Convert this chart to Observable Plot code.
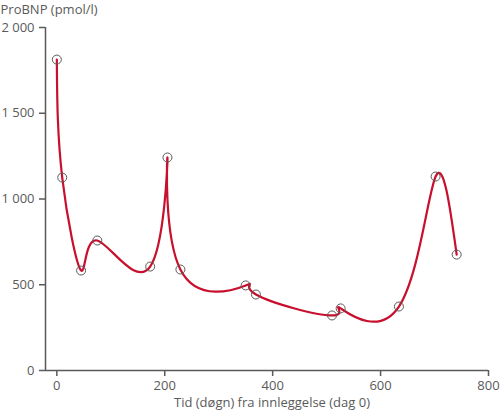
<!DOCTYPE html>
<html>
<head>
<meta charset="utf-8">
<script src="https://cdn.jsdelivr.net/npm/d3@7"></script>
<script src="https://cdn.jsdelivr.net/npm/@observablehq/plot@0.6"></script>
<style>
  html, body { margin: 0; padding: 0; background: #fff; }
  #chart svg { display: block; }
</style>
</head>
<body>
<div id="chart"></div>
<script>
const days = [0, 10, 45, 75, 173, 205, 229, 350, 369, 510, 526, 634, 702, 741];
const probnp = [1813, 1125, 583, 758, 606, 1242, 589, 496, 443, 321, 362, 373, 1131, 676];
const yTicks = [0, 500, 1000, 1500, 2000];
const xTicks = [0, 200, 400, 600, 800];
const yTitle = "ProBNP (pmol/l)";
const xTitle = "Tid (døgn) fra innleggelse (dag 0)";

const data = days.map((d, i) => ({day: d, value: probnp[i]}));
const fmt = v => d3.format(",")(v).replace(/,/g, " ");
const grey = "#5a5a5a";
const red = "#c8102e";

const chart = Plot.plot({
  width: 500,
  height: 411,
  marginTop: 27,
  marginBottom: 41,
  marginLeft: 45,
  marginRight: 12,
  style: {fontFamily: "'Open Sans', sans-serif", fontSize: "13px", color: grey},
  x: {domain: [-21, 800]},
  y: {domain: [0, 2000]},
  marks: [
    Plot.ruleX([-21], {y1: 0, y2: 2000, stroke: grey, strokeWidth: 1.5}),
    Plot.ruleY([0], {x1: -21, x2: 800, stroke: grey, strokeWidth: 1.5}),
    Plot.axisY({ticks: yTicks, tickFormat: fmt, tickSize: 6, tickPadding: 5, label: null, stroke: grey, strokeWidth: 1.5, fill: grey, fontSize: 13}),
    Plot.axisX({ticks: xTicks, tickFormat: d => String(d), tickSize: 6, tickPadding: 4, label: null, stroke: grey, strokeWidth: 1.5, fill: grey, fontSize: 13}),
    Plot.text([yTitle], {frameAnchor: "top-left", text: d => d, dx: -45, dy: -18, textAnchor: "start", lineAnchor: "middle", fill: grey, fontSize: 13}),
    Plot.text([xTitle], {frameAnchor: "bottom", text: d => d, dx: 5, dy: 32, lineAnchor: "middle", fill: grey, fontSize: 13}),
    Plot.line(data, {x: "day", y: "value", curve: "natural", stroke: red, strokeWidth: 2.2}),
    Plot.dot(data, {x: "day", y: "value", r: 4.5, stroke: grey, strokeWidth: 1, fill: "none"})
  ]
});
document.getElementById("chart").append(chart);
</script>
</body>
</html>
